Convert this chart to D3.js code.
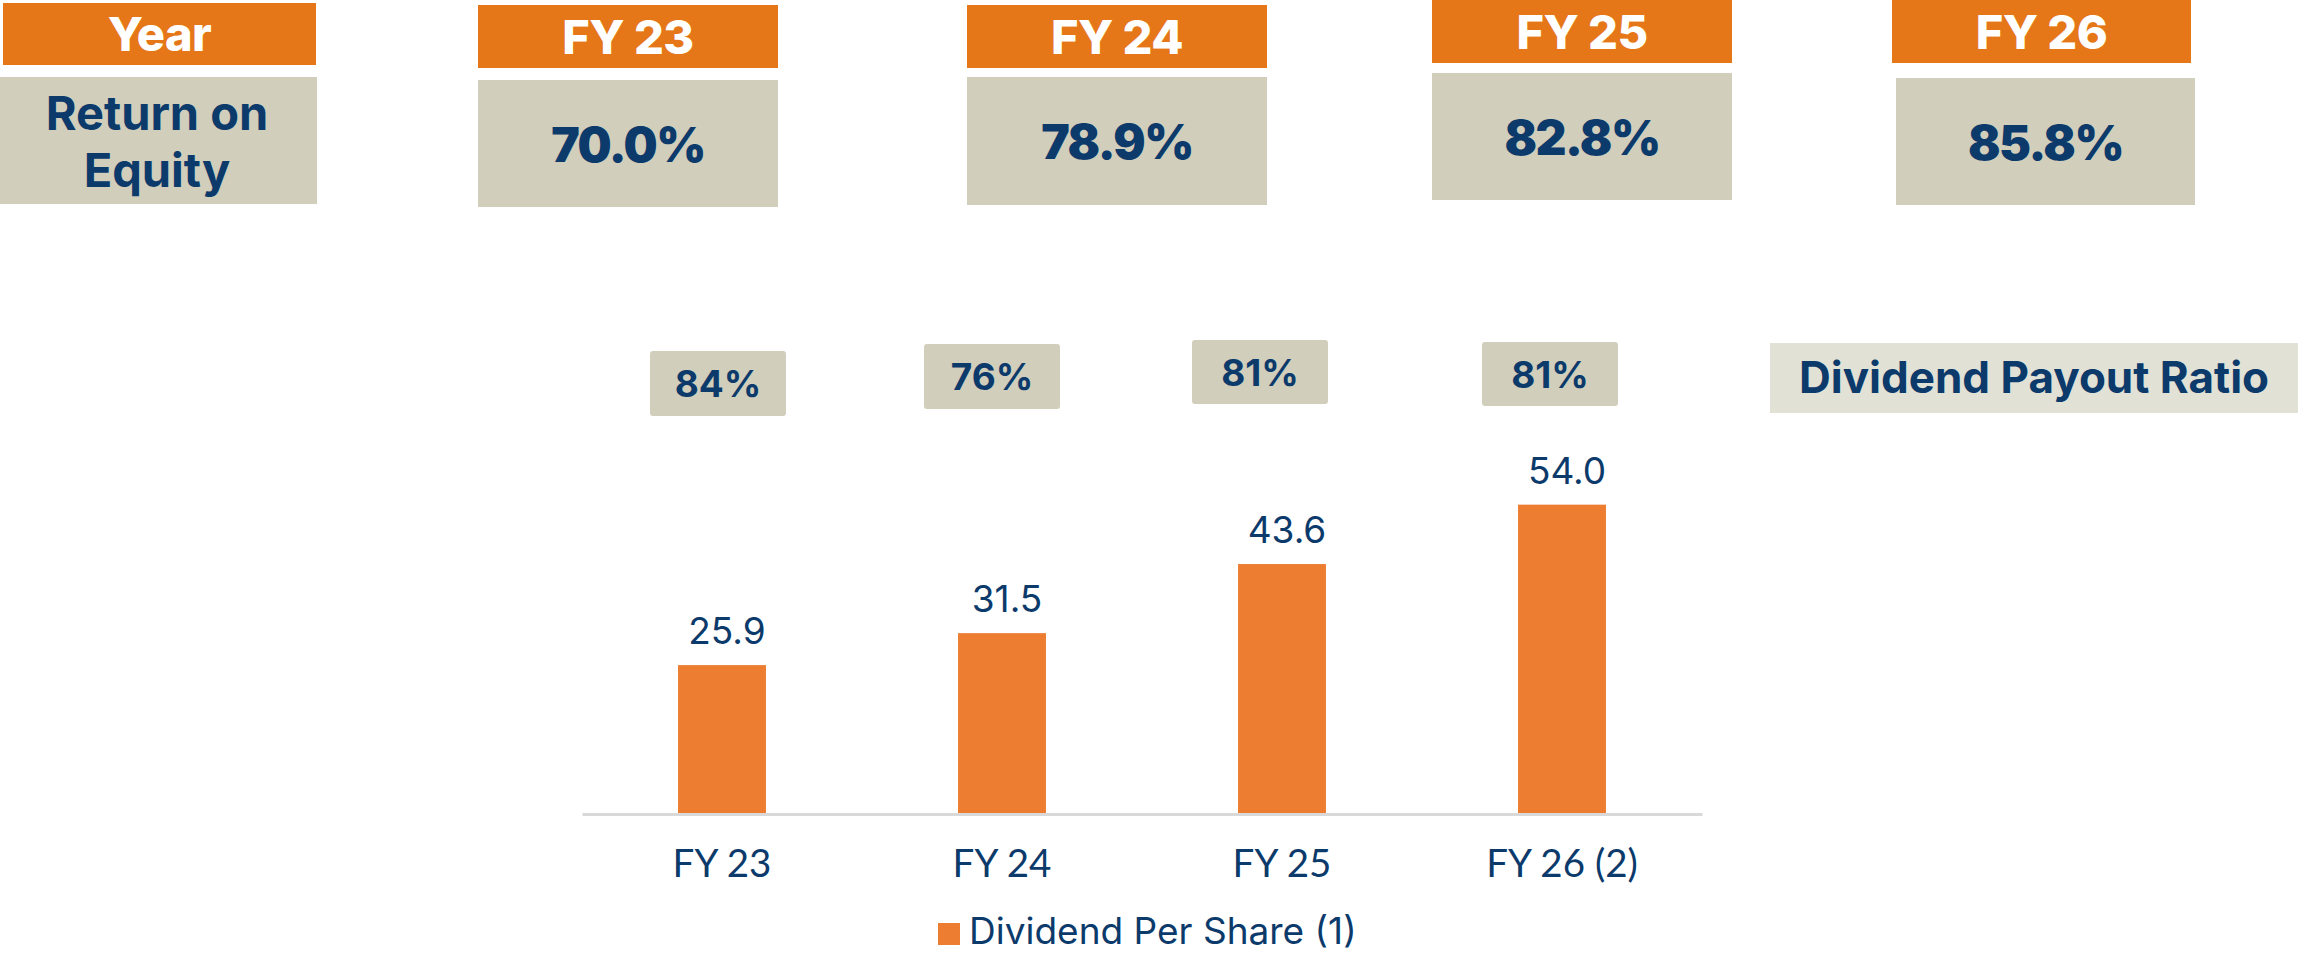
<!DOCTYPE html>
<html>
<head>
<meta charset="utf-8">
<script src="https://cdn.jsdelivr.net/npm/d3@7"></script>
<style>
  html, body { margin: 0; padding: 0; background: #ffffff; }
  svg { display: block; font-family: Inter, "Noto Sans", sans-serif; }
</style>
</head>
<body>
<svg id="chart" width="2298" height="953"></svg>
<script>
// ---- data ----
const tableYears = ["FY 23", "FY 24", "FY 25", "FY 26"];
const returnOnEquity = [70.0, 78.9, 82.8, 85.8];
const payoutRatio = [84, 76, 81, 81];
const categories = ["FY 23", "FY 24", "FY 25", "FY 26 (2)"];
const dividendPerShare = [25.9, 31.5, 43.6, 54.0];
const seriesName = "Dividend Per Share (1)";

// ---- layout ----
const W = 2298, H = 953;
const navy = "#0b3a6b";
const headerOrange = "#e57718";
const barOrange = "#ed7d31";
const boxGray = "#d1cebc";
const lightGray = "#e1e1d6";

// table columns: header band (hy0..hy1) and value box (by0..by1)
const tableCols = [
  { x: 3,    hy0: 3, hy1: 65, bx: 0,    by0: 77, by1: 204, w: 313, bw: 317 },
  { x: 478,  hy0: 5, hy1: 68, bx: 478,  by0: 80, by1: 207, w: 300, bw: 300 },
  { x: 967,  hy0: 5, hy1: 68, bx: 967,  by0: 77, by1: 205, w: 300, bw: 300 },
  { x: 1432, hy0: 0, hy1: 63, bx: 1432, by0: 73, by1: 200, w: 300, bw: 300 },
  { x: 1892, hy0: 0, hy1: 63, bx: 1896, by0: 78, by1: 205, w: 299, bw: 299 }
];
// payout ratio boxes
const payoutBoxes = [
  { x0: 650,  x1: 786,  y0: 351, y1: 416 },
  { x0: 924,  x1: 1060, y0: 344, y1: 409 },
  { x0: 1192, x1: 1328, y0: 340, y1: 404 },
  { x0: 1482, x1: 1618, y0: 342, y1: 406 }
];

const svg = d3.select("#chart");

// ---- top table: Year / Return on Equity ----
const headerLabels = ["Year"].concat(tableYears);
const roeLabels = [null].concat(returnOnEquity.map(v => d3.format(".1f")(v) + "%"));

const cols = svg.append("g").attr("class", "table")
  .selectAll("g").data(tableCols).join("g");

cols.append("rect")
  .attr("x", d => d.x).attr("y", d => d.hy0)
  .attr("width", d => d.w).attr("height", d => d.hy1 - d.hy0)
  .attr("fill", headerOrange);

cols.append("text")
  .attr("x", d => d.x + d.w / 2)
  .attr("y", d => (d.hy0 + d.hy1) / 2 + 17)
  .attr("text-anchor", "middle")
  .attr("fill", "#ffffff")
  .attr("font-size", 47)
  .attr("font-weight", 800)
  .attr("letter-spacing", -0.5)
  .text((d, i) => headerLabels[i]);

cols.append("rect")
  .attr("x", d => d.bx)
  .attr("y", d => d.by0)
  .attr("width", d => d.bw)
  .attr("height", d => d.by1 - d.by0)
  .attr("fill", boxGray);

cols.filter((d, i) => i > 0).append("text")
  .attr("x", d => d.bx + d.bw / 2)
  .attr("y", d => (d.by0 + d.by1) / 2 + 18)
  .attr("text-anchor", "middle")
  .attr("fill", navy)
  .attr("font-size", 48)
  .attr("font-weight", 900)
  .attr("letter-spacing", -1.5)
  .text((d, i) => roeLabels[i + 1]);

const roeTitle = svg.append("text")
  .attr("text-anchor", "middle")
  .attr("fill", navy)
  .attr("font-size", 47)
  .attr("font-weight", 700);
roeTitle.append("tspan").attr("x", 157).attr("y", 130).text("Return on");
roeTitle.append("tspan").attr("x", 157).attr("y", 187).text("Equity");

// ---- dividend payout ratio boxes ----
const payout = svg.append("g").attr("class", "payout")
  .selectAll("g").data(payoutRatio).join("g");

payout.append("rect")
  .attr("x", (d, i) => payoutBoxes[i].x0)
  .attr("y", (d, i) => payoutBoxes[i].y0)
  .attr("width", (d, i) => payoutBoxes[i].x1 - payoutBoxes[i].x0)
  .attr("height", (d, i) => payoutBoxes[i].y1 - payoutBoxes[i].y0)
  .attr("rx", 3)
  .attr("fill", boxGray);

payout.append("text")
  .attr("x", (d, i) => (payoutBoxes[i].x0 + payoutBoxes[i].x1) / 2)
  .attr("y", (d, i) => (payoutBoxes[i].y0 + payoutBoxes[i].y1) / 2 + 13.5)
  .attr("text-anchor", "middle")
  .attr("fill", navy)
  .attr("font-size", 37)
  .attr("font-weight", 700)
  .text(d => d + "%");

svg.append("rect")
  .attr("x", 1770).attr("y", 343)
  .attr("width", W - 1770).attr("height", 70)
  .attr("fill", lightGray);
svg.append("text")
  .attr("x", 2034).attr("y", 393)
  .attr("text-anchor", "middle")
  .attr("fill", navy)
  .attr("font-size", 44)
  .attr("font-weight", 700)
  .text("Dividend Payout Ratio");

// ---- bar chart: dividend per share ----
const baseline = 813;
const x = d3.scaleBand()
  .domain(categories)
  .range([582, 1702])
  .paddingInner(0.686)
  .paddingOuter(0.343);

const y = d3.scaleLinear()
  .domain([0, 60])
  .range([baseline, baseline - 5.71 * 60]);

const bars = svg.append("g").attr("class", "bars");
bars.selectAll("rect")
  .data(dividendPerShare)
  .join("rect")
  .attr("x", (d, i) => x(categories[i]))
  .attr("y", d => y(d))
  .attr("width", x.bandwidth())
  .attr("height", d => y(0) - y(d))
  .attr("fill", barOrange);

bars.selectAll("text")
  .data(dividendPerShare)
  .join("text")
  .attr("x", (d, i) => x(categories[i]) + x.bandwidth() / 2 + 5)
  .attr("y", d => y(d) - 21)
  .attr("text-anchor", "middle")
  .attr("fill", navy)
  .attr("font-size", 37)
  .attr("font-weight", 400)
  .text(d => d3.format(".1f")(d));

const xAxis = svg.append("g")
  .attr("transform", `translate(0,${baseline + 1})`)
  .call(d3.axisBottom(x).tickSize(0).tickPadding(36));
xAxis.select(".domain")
  .attr("stroke", "#d9d9d9")
  .attr("stroke-width", 3);
xAxis.selectAll(".tick text")
  .attr("fill", navy)
  .attr("font-size", 38.5)
  .attr("font-family", "Lato, Inter, sans-serif");

// ---- legend ----
const legend = svg.append("g").attr("class", "legend");
legend.append("rect")
  .attr("x", 938).attr("y", 923)
  .attr("width", 22).attr("height", 22)
  .attr("fill", barOrange);
legend.append("text")
  .attr("x", 969).attr("y", 944)
  .attr("fill", navy)
  .attr("font-size", 37)
  .text(seriesName);
</script>
</body>
</html>
